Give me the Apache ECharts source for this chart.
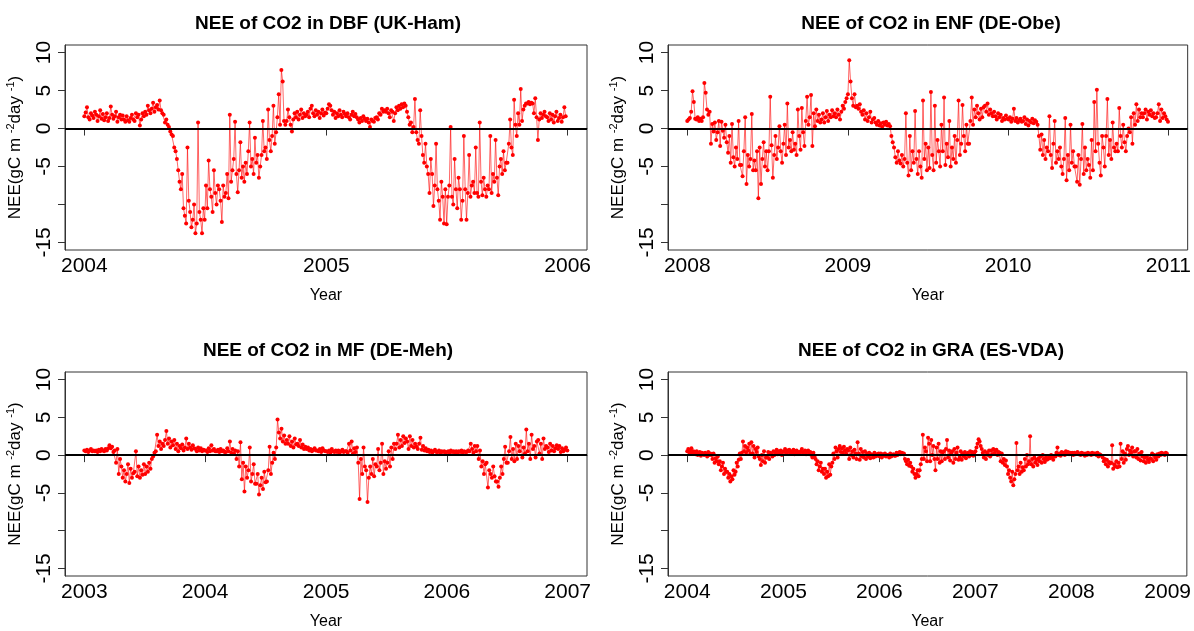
<!DOCTYPE html>
<html lang="en">
<head>
<meta charset="UTF-8" />
<title>NEE of CO2</title>
<script src="https://cdn.jsdelivr.net/npm/echarts@6/dist/echarts.min.js"></script>
<style>html,body{margin:0;padding:0;background:#fff}</style>
</head>
<body>
<div id="main" style="width:1194px;height:631px;"></div>
<script>
// NEE values, one sample every `steps[k]` days from `starts[k]`
var titles = ['NEE of CO2 in DBF (UK-Ham)', 'NEE of CO2 in ENF (DE-Obe)', 'NEE of CO2 in MF (DE-Meh)', 'NEE of CO2 in GRA (ES-VDA)']
var starts = ['2004-01-01', '2008-01-01', '2003-01-01', '2004-01-01']
var steps = [2, 3, 4, 4]
var yearTicks = [[2004, 2005, 2006], [2008, 2009, 2010, 2011], [2003, 2004, 2005, 2006, 2007], [2004, 2005, 2006, 2007, 2008, 2009]]
var yTicks = [-15, -10, -5, 0, 5, 10]
var yLabels = [-15, -5, 0, 5, 10]

var neeUKHam = [
  // 2004
  1.6, 2.1, 2.8, 1.5, 1.2, 2.0, 1.7, 1.4, 2.2, 1.8, 1.0, 1.6, 2.4, 1.3, 1.9, 1.1,
  1.5, 2.0, 1.0, 1.4, 2.9, 1.8, 1.3, 1.6, 2.2, 0.9, 1.5, 1.8, 1.2, 1.7,
  1.2, 0.9, 1.6, 1.1, 0.9, 1.4, 1.8, 1.2, 1.0, 2.0, 1.5, 1.8, 0.4, 1.2, 2.0, 1.6,
  2.2, 1.8, 3.0, 2.4, 2.0, 2.6, 3.4, 2.2, 2.8, 3.1, 2.5, 3.7, 2.4, 2.0, 1.8,
  0.8, 1.2, 0.5, 0.2, -0.4, -0.8, -1.0, -2.5, -3.0, -4.0, -5.5, -7.0, -8.0, -6.0, -10.5,
  -11.5, -12.5, -2.5, -9.5, -11.0, -13.0, -12.0, -10.0, -13.8, -12.5, 0.8, -11.0, -12.0, -13.8, -10.5,
  -12.0, -7.5, -10.5, -4.2, -8.0, -9.0, -11.0, -5.5, -8.5, -10.0, -7.5, -8.0, -9.5, -12.3, -7.5, -9.0,
  -8.5, -6.0, -9.2, 1.8, -7.0, -5.5, -4.0, 0.9, -6.0, -8.4, -5.5, -1.8, -6.5, -5.0, -7.0,
  -4.5, -6.0, -3.0, 0.8, -5.0, -4.0, -6.0, -1.2, -4.5, -3.5, -6.5, -5.0, -3.5, 1.0, -3.0,
  -2.5, -4.0, 2.5, -1.5, -3.0, -1.0, 3.0, -2.0, -0.5, 1.5, 4.5, 0.5, 7.7, 6.2, 1.0, 0.5,
  1.0, 2.5, 1.5, 0.5, -0.4, 1.2, 2.0, 1.5, 2.2, 1.2, 1.8, 2.5, 1.4, 2.0, 1.6,
  1.8, 2.2, 1.5, 2.6, 3.0, 2.0, 1.6, 2.4, 1.8, 2.2, 1.4, 2.0, 2.5, 1.7, 2.1,
  // 2005
  2.0, 2.6, 3.2, 3.0, 2.4, 1.8, 2.2, 1.4, 2.0, 1.6, 2.4, 1.8, 1.5, 2.2, 1.9, 1.6,
  2.0, 1.5, 1.2, 1.8, 2.2, 1.6, 1.9, 1.5, 1.2, 0.8, 1.4, 1.0, 1.6, 1.3,
  1.0, 1.3, 0.8, 0.2, 1.2, 1.0, 0.9, 1.4, 1.5, 1.2, 2.0, 1.8, 2.6, 2.2, 2.4,
  2.2, 2.6, 2.0, 1.5, 2.4, 2.2, 1.0, 2.0, 2.8, 2.4, 3.0, 2.6, 3.2, 2.8, 3.3,
  3.0, 2.2, 1.5, 0.5, 0.8, -0.5, 0.2, 3.9, -0.5, -1.5, -2.0, 2.4, -1.0, -3.5, -4.5, -2.0,
  -5.0, -6.0, -8.5, -4.0, -6.0, -10.2, -7.5, -2.0, -8.0, -9.5, -12.0, -7.0, -9.0, -12.5, -8.0,
  -12.6, -9.0, -7.5, 0.2, -9.0, -10.0, -4.0, -8.0, -10.5, -6.5, -8.0, -12.0, -9.5, -1.0, -8.0,
  -12.0, -8.5, -3.5, -9.0, -7.5, -7.0, -8.5, -2.5, -8.5, -9.0, 0.8, -7.0, -8.8, -6.5, -8.0, -9.0,
  -7.5, -8.0, -1.0, -8.5, -6.0, -7.0, -1.5, -6.5, -8.8, -5.0, -4.0, -6.0, -3.0, -5.5, -4.5,
  -4.5, -2.0, 1.2, -2.5, -3.5, 3.8, 0.5, -1.0, 2.0, 0.5, 5.2, 1.0, 2.5, 3.0, 3.3,
  3.3, 3.5, 3.2, 3.4, 3.3, 2.0, 4.0, 1.5, -1.5, 1.2, 2.0, 1.4, 1.8, 2.2, 1.6,
  1.5, 1.0, 2.0, 1.2, 1.8, 0.8, 1.6, 2.2, 1.0, 1.4, 1.8, 0.9, 1.5, 2.8, 1.6
]

var neeDEObe = [
  // 2008
  1.0, 1.2, 1.4, 2.2, 4.9, 3.5, 1.3, 1.2, 1.5, 1.0, 1.3,
  1.0, 1.5, 6.0, 4.7, 2.5, 1.8, 2.2, -2.0, 0.6, -0.4,
  0.8, -1.5, -0.5, 1.0, -2.3, 0.9, -0.3, -1.2, 0.5, -1.8,
  -3.2, -1.0, -4.5, 0.6, -3.8, -5.0, -2.5, -4.0, 1.0, -4.8,
  -4.8, -6.3, -3.0, 1.5, -7.3, -3.5, -5.0, -4.0, 1.9, -5.5,
  -4.2, -5.5, -3.0, -9.2, -2.5, -7.3, -4.0, -1.8, -5.0, -3.0,
  -5.5, -3.0, 4.2, -2.2, -6.5, -3.5, -1.0, -4.0, -2.5, 0.3, -3.0,
  -4.5, -2.0, 0.5, -3.5, 3.3, -2.5, -1.5, -3.0, -0.5, -2.8,
  -2.0, -3.5, 2.5, -1.0, -2.8, 2.7, -0.5, -2.3, 1.0, 4.2,
  0.5, 1.5, 4.4, -2.3, 2.0, 0.3, 2.5, 1.0, 1.8, 0.8,
  1.2, 2.0, 0.8, 1.5, 2.3, 1.0, 1.8, 1.5, 2.4, 1.6,
  2.0, 1.5, 2.5, 1.8, 1.2, 2.2, 3.0, 2.6, 3.5, 4.0,
  // 2009
  4.5, 9.0, 6.2, 4.0, 3.0, 4.5, 2.8, 3.0, 2.6, 3.2, 2.2,
  1.8, 2.4, 1.2, 2.0, 1.0, 1.5, 2.2, 0.8, 1.2, 1.4,
  0.8, 0.5, 1.0, 0.4, 0.7, 0.2, 0.8, 0.5, 0.9, 0.4,
  0.6, 0.3, -1.0, -1.8, -2.5, -3.8, -4.5, -3.0, -4.2, -4.6,
  -3.5, -5.0, -4.0, 2.0, -4.5, -6.2, -1.0, -5.5, -3.0, -4.5,
  2.3, -4.0, -6.0, -3.0, -5.0, -6.5, 3.7, -4.0, -2.0, -5.5,
  -2.5, -5.2, 4.8, -3.5, -5.5, 3.0, -4.5, -1.5, -3.0, -5.0, 0.5,
  -3.0, 4.1, -4.8, -2.0, -3.8, 1.0, -5.0, -2.5, -4.0, -1.0,
  -4.5, -1.5, 3.7, -3.5, -2.0, 3.1, -1.0, -3.0, 0.5, -2.0,
  -2.0, 1.0, 4.1, 0.5, 2.5, 1.5, 3.0, 2.0, 1.2, 2.6,
  1.5, 2.8, 3.0, 2.2, 3.3, 1.8, 2.5, 2.0, 1.6, 2.2,
  1.6, 1.2, 2.0, 1.5, 1.8, 1.0, 1.4, 1.2, 1.7, 1.3,
  // 2010
  1.2, 1.5, 0.9, 1.3, 2.6, 1.0, 1.4, 0.8, 1.1, 1.3, 0.9,
  1.0, 1.5, 0.6, 1.2, 0.4, 1.0, 0.8, 1.3, 0.7, 1.1,
  0.9, 0.5, -1.0, -2.8, -0.8, -3.5, -1.5, -4.0, -2.5, -3.0,
  1.6, -3.5, -5.2, -2.0, 1.0, -4.5, -3.0, -4.0, -2.5, -5.0,
  -6.0, -4.0, 1.4, -6.8, -3.5, -5.5, 0.5, -4.5, -3.0, -5.0,
  -5.0, -7.0, -3.5, -7.4, -4.0, 0.6, -6.0, -2.5, -5.5, -4.0,
  -4.8, -6.5, -1.5, -5.5, 3.5, -3.0, 5.1, -2.0, -4.5, -6.2, -1.0,
  -2.5, -5.0, -1.0, 3.9, -3.5, -1.5, -4.0, 0.8, -2.5, -3.0,
  -2.0, -3.0, 2.7, -1.0, -2.5, 0.5, -1.8, -3.0, -1.0, 0.0,
  -0.5, 1.5, -2.0, 2.0, 0.5, 3.2, 1.0, 2.5, 1.5, 2.0,
  1.5, 2.0, 2.5, 1.2, 2.2, 1.8, 2.4, 1.6, 2.0, 1.4,
  1.5, 2.0, 3.2, 1.0, 2.5, 1.4, 2.0, 1.6, 1.2, 0.9
]

var neeDEMeh = [
  // 2003
  0.6, 0.5, 0.7, 0.4, 0.6, 0.8, 0.5, 0.6,
  0.5, 0.6, 0.4, 0.7, 0.5, 0.8, 0.6,
  0.5, 0.8, 0.6, 0.9, 1.3, 0.9, 1.1, 0.4,
  0.6, -1.0, 0.8, -2.5, -0.5, -1.5, -3.0,
  -2.0, -3.5, -2.5, -1.2, -3.7, -1.8, -3.0, -2.4,
  -2.2, 0.5, -2.8, -1.5, -3.0, -2.0, -2.6, -1.2,
  -2.5, -1.5, -2.2, -1.0, -1.8, -0.5, -0.2,
  0.3, 0.5, 2.7, 1.2, 1.8, 0.8, 1.5, 1.2,
  2.0, 3.2, 1.5, 2.2, 1.0, 1.8, 1.3, 2.0,
  0.8, 1.5, 0.5, 1.2, 0.9, 1.4, 0.6,
  1.0, 2.2, 0.8, 1.5, 1.0, 0.7, 1.3, 0.9,
  0.8, 0.5, 1.0, 0.6, 0.9, 0.5, 0.7, 0.6,
  // 2004
  0.6, 0.4, 0.9, 0.5, 1.3, 0.6, 0.8, 0.5,
  0.5, 0.7, 0.4, 0.8, 0.5, 0.6, 0.4,
  0.4, 0.9, 0.5, 1.8, 0.3, 0.8, 0.2, 0.6,
  -0.5, 0.5, -1.5, 1.7, -3.2, -1.0, -4.8,
  -1.5, -3.0, -2.0, 1.0, -3.5, -2.5, -1.2, -3.8,
  -3.8, -2.5, -5.2, -4.0, -3.0, -4.5, -2.2, -3.6,
  -3.5, -2.0, 1.1, -2.5, -1.0, 0.3, -0.5,
  1.0, 4.7, 3.0, 2.2, 3.5, 1.8, 2.6, 1.5,
  2.0, 1.5, 2.5, 1.2, 1.8, 1.0, 2.2, 1.4,
  1.5, 1.2, 2.0, 1.0, 1.4, 0.8, 1.1,
  0.8, 1.0, 0.6, 0.8, 0.5, 0.7, 0.9, 0.6,
  0.6, 0.5, 0.8, 0.4, 0.9, 0.6, 0.5,
  // 2005
  0.5, 0.4, 0.6, 0.3, 0.8, 0.5, 0.4, 0.6,
  0.4, 0.6, 0.3, 0.5, 0.7, 0.4, 0.5,
  0.5, 0.3, 1.5, 0.6, 1.8, 0.2, 0.9, 0.4,
  1.0, -1.0, -5.8, -0.5, -2.5, 1.0, -1.5,
  -2.0, -6.2, -3.0, -1.5, -2.5, -0.5, -2.8, -1.2,
  -1.5, 0.8, -2.0, -1.0, 1.5, -2.5, -0.8, -1.8,
  -1.0, 0.5, -1.5, 1.0, -0.5, 1.5, 0.8,
  1.5, 2.7, 1.0, 2.0, 1.2, 2.5, 1.6, 2.2,
  1.8, 0.8, 2.5, 1.2, 2.0, 1.0, 1.5, 1.1,
  0.8, 1.5, 2.3, 0.7, 1.2, 0.6, 0.9,
  0.5, 0.7, 0.4, 0.6, 0.3, 0.5, 0.7, 0.4,
  0.4, 0.6, 0.3, 0.5, 0.4, 0.5, 0.3,
  // 2006
  0.4, 0.5, 0.3, 0.6, 0.4, 0.5, 0.3, 0.5,
  0.3, 0.5, 0.4, 0.6, 0.3, 0.5, 0.4,
  0.4, 0.6, 0.5, 1.5, 0.8, 0.3, 1.2, 0.5,
  1.2, -0.5, 0.6, -1.5, -0.8, -2.5, -1.2,
  -1.0, -4.3, -2.0, -2.5, -3.0, -1.5, -2.8, -3.5,
  -3.5, -4.2, -3.0, -1.5, -2.5, -0.5, 1.1, -1.0,
  -1.0, 0.5, 2.4, -0.5, 0.8, -0.8, 1.5,
  -0.5, 1.2, 0.5, 1.8, -0.3, 1.0, 0.2, 3.4,
  0.5, 1.5, -0.5, 2.7, 0.8, 1.2, -0.3, 1.8,
  2.0, 0.2, 1.5, -0.5, 2.2, 0.8, 1.2,
  1.0, 0.4, 1.5, 0.6, 1.2, 0.5, 0.9, 1.3,
  0.8, 1.2, 0.4, 0.9, 0.5, 0.7, 1.0, 0.6
]

var neeESVDA = [
  // 2004
  0.5, 0.8, 0.3, 0.6, 0.9, 0.2, 0.5, 0.4,
  0.1, 0.5, 0.0, 0.3, 0.4, -0.1, 0.3,
  0.2, 0.0, 0.3, 0.1, -0.2, 0.4, 0.0, 0.2,
  0.0, -0.5, 0.2, -1.0, -0.4, -0.8, -0.2,
  -1.2, -0.8, -2.0, -1.5, -1.0, -2.5, -1.8, -2.2,
  -2.2, -3.0, -2.5, -3.5, -2.8, -3.2, -2.0, -2.6,
  -2.2, -1.0, -1.5, -0.6, 0.2, -0.5, 0.3,
  1.8, 0.5, 1.2, 0.3, 1.0, 0.6, 1.5, 0.2,
  1.7, 0.2, 1.2, -0.3, 0.8, 0.4, 1.0, -0.2,
  -0.5, -1.3, 0.0, -0.8, 0.5, -1.0, -0.3,
  -0.3, 0.4, -0.5, 0.3, 0.1, -0.2, 0.5, 0.0,
  0.3, 0.7, 0.1, 0.5, 0.2, 0.6, 0.0, 0.4,
  // 2005
  0.5, 0.8, 0.2, 0.6, 0.4, 0.7, 0.3, 0.5,
  0.3, 0.7, 0.1, 0.5, 0.6, 0.2, 0.4,
  0.2, 0.5, 0.8, 0.3, 0.4, 0.6, 0.1, 0.5,
  0.6, 0.2, 0.4, 0.0, -0.3, 0.3, -0.2,
  -0.5, -1.2, -0.8, -2.0, -1.5, -1.0, -2.2, -1.8,
  -2.5, -1.8, -3.0, -2.2, -2.8, -1.2, -2.6, -1.5,
  -1.0, 0.2, -0.5, 1.0, 0.5, -0.3, 0.8,
  1.2, 0.4, 0.9, 0.3, 1.1, 0.6, 0.2, 0.8,
  0.6, -0.5, 1.0, 0.0, 0.5, -0.3, 0.7, 0.2,
  -0.5, 1.7, 0.2, -0.6, 0.8, -0.2, 0.4,
  -0.3, 0.5, -0.5, 0.2, -0.2, 0.3, -0.4, 0.1,
  0.0, -0.3, 0.3, -0.2, 0.1, -0.1, 0.2,
  // 2006
  -0.2, 0.2, -0.3, 0.1, -0.1, 0.2, -0.2, 0.0,
  0.0, -0.3, 0.2, -0.2, 0.0, 0.1, -0.1,
  -0.1, 0.3, 0.0, 0.2, 0.4, 0.1, 0.3, 0.2,
  0.2, -0.5, -0.8, -1.2, -0.6, -1.4, -1.0,
  -1.5, -2.2, -1.8, -2.5, -3.0, -2.5, -2.0, -2.8,
  -2.0, -1.2, -0.5, 2.7, -0.5, 1.0, 0.5, -0.8,
  2.3, 1.5, -0.8, 2.0, 0.0, 1.2, -0.5,
  -2.0, 1.0, -0.5, 1.5, -1.0, 0.5, -0.8, 0.3,
  0.5, -0.5, 0.8, 2.0, -0.3, 0.6, -0.7, 0.2,
  0.5, -1.0, 0.8, -0.5, 0.3, 1.0, -0.6,
  -0.3, 0.5, -0.6, 0.2, -0.2, 0.4, -0.4, 0.1,
  0.3, -0.2, 0.5, 0.0, 0.4, -0.1, 0.3,
  // 2007
  0.5, 1.0, 1.5, 2.1, 1.8, 1.2, 0.8, 0.3,
  -0.3, 0.5, -0.5, 0.3, 0.0, 0.6, -0.2,
  0.6, 0.1, 0.8, 0.2, 0.5, 0.7, 0.0, 0.4,
  0.3, -0.8, 0.2, -1.0, -0.5, -1.3, -0.7,
  -1.5, -2.5, -2.0, -3.0, -3.5, -2.2, -4.0, -3.2,
  -2.5, 1.6, -2.0, -1.5, -2.5, -1.0, -2.2, -1.6,
  -2.0, -0.5, -1.5, 0.0, -1.2, -0.8, 2.5,
  -1.2, -0.5, -1.5, -0.3, -1.0, -0.6, -1.3, -0.4,
  -0.8, -0.2, -1.0, 0.0, -0.5, -0.9, -0.3, -0.6,
  -0.5, -0.2, -0.4, 0.0, -0.3, -0.6, -0.1,
  -0.2, 0.3, 1.0, 0.0, 0.2, -0.1, 0.4, 0.1,
  0.3, 0.0, 0.5, 0.2, 0.4, 0.1, 0.3,
  // 2008
  0.2, 0.3, 0.0, 0.3, 0.1, 0.2, 0.4, 0.1,
  0.2, 0.0, 0.3, 0.1, 0.2, -0.1, 0.2,
  0.0, 0.3, 0.1, 0.2, 0.0, 0.3, 0.1, 0.2,
  0.2, 0.0, 0.3, -0.2, 0.1, 0.0, -0.1,
  -0.3, -0.8, -0.5, -1.2, -0.6, -1.5, -0.9, -1.1,
  -1.0, 1.3, -1.8, -1.2, -1.5, -0.8, -1.6, -1.0,
  -1.5, 1.5, -0.5, 0.5, -1.0, 0.2, -0.6,
  0.8, 1.2, 0.0, 0.6, 0.3, 1.0, -0.2, 0.5,
  0.5, -0.3, 0.8, -0.5, 0.2, -0.7, 0.4, -0.2,
  -0.8, -0.3, -1.0, -0.2, -0.6, -0.9, -0.4,
  -0.5, 0.2, -0.8, 0.0, -0.3, -0.6, 0.1, -0.2,
  0.2, 0.0, 0.3, 0.1, 0.2, 0.0, 0.3, 0.2
]

var panels = [neeUKHam, neeDEObe, neeDEMeh, neeESVDA]

var DAY = 86400000
var FONT = 'Liberation Sans, Arial, sans-serif'
var boxes = [
  { left: 65, top: 45 },
  { left: 668, top: 45 },
  { left: 65, top: 372 },
  { left: 668, top: 372 }
]
var titleTops = [9, 9, 336, 336]

function toPoints(start, step, vals) {
  var t0 = Date.parse(start + 'T00:00:00Z')
  return vals.map(function (v, i) {
    return [t0 + i * step * DAY, v]
  })
}

var myChart = echarts.init(document.getElementById('main'))

var option = {
  animation: false,
  backgroundColor: '#fff',
  title: [],
  grid: [],
  xAxis: [],
  yAxis: [],
  series: []
}

panels.forEach(function (vals, k) {
  var ticks = yearTicks[k].map(function (y) { return Date.UTC(y, 0, 1) })
  var span = ticks[ticks.length - 1] - ticks[0]

  option.title.push({
    text: titles[k],
    left: boxes[k].left + 258,
    top: titleTops[k],
    textAlign: 'center',
    textStyle: { fontFamily: FONT, fontSize: 19, fontWeight: 'bold', color: '#000' }
  })

  option.grid.push({
    left: boxes[k].left,
    top: boxes[k].top,
    width: 522,
    height: 205,
    show: true,
    borderColor: '#333',
    borderWidth: 1,
    backgroundColor: 'transparent'
  })

  option.xAxis.push({
    type: 'value',
    gridIndex: k,
    min: ticks[0] - 0.04 * span,
    max: ticks[ticks.length - 1] + 0.04 * span,
    name: 'Year',
    nameLocation: 'middle',
    nameGap: 38,
    nameTextStyle: { fontFamily: FONT, fontSize: 16, color: '#000' },
    axisLine: { show: true, lineStyle: { color: '#333', width: 1 } },
    axisTick: { show: true, customValues: ticks, length: 7, lineStyle: { color: '#333' } },
    axisLabel: {
      customValues: ticks,
      formatter: function (v) { return new Date(v).getUTCFullYear() },
      fontFamily: FONT,
      fontSize: 21,
      color: '#000',
      margin: 6
    },
    splitLine: { show: false }
  })

  option.yAxis.push({
    type: 'value',
    gridIndex: k,
    min: -16,
    max: 11,
    name: '{t|NEE(gC m }{s|-2}{t|day }{s|-1}{t|)}',
    nameLocation: 'middle',
    nameRotate: 90,
    nameGap: 40,
    nameTextStyle: {
      rich: {
        t: { fontFamily: FONT, fontSize: 17, color: '#000', lineHeight: 20 },
        s: { fontFamily: FONT, fontSize: 11, color: '#000', verticalAlign: 'top', lineHeight: 20 }
      }
    },
    axisLine: { show: true, lineStyle: { color: '#333', width: 1 } },
    axisTick: { show: true, customValues: yTicks, length: 7, lineStyle: { color: '#333' } },
    axisLabel: {
      customValues: yLabels,
      rotate: 90,
      fontFamily: FONT,
      fontSize: 21,
      color: '#000',
      margin: 10
    },
    splitLine: { show: false }
  })

  option.series.push({
    type: 'line',
    xAxisIndex: k,
    yAxisIndex: k,
    data: toPoints(starts[k], steps[k], vals),
    symbol: 'circle',
    symbolSize: 4,
    showAllSymbol: true,
    itemStyle: { color: '#ff0000' },
    lineStyle: { color: '#ff0000', width: 0.8, opacity: 0.75 },
    markLine: {
      silent: true,
      symbol: ['none', 'none'],
      label: { show: false },
      lineStyle: { color: '#000', width: 2, type: 'solid' },
      data: [{ yAxis: 0 }]
    }
  })
})

myChart.setOption(option)
</script>
</body>
</html>
